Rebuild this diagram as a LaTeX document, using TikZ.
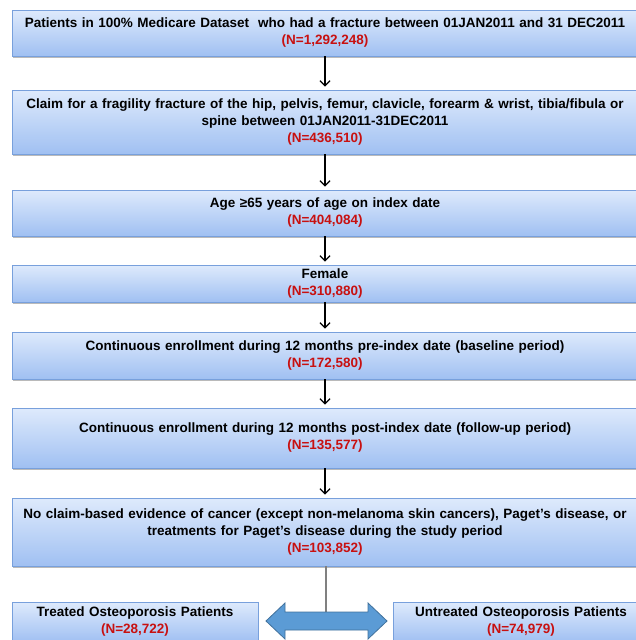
\documentclass[tikz,border=0pt]{standalone}
\usepackage{fontspec}
\setmainfont{Liberation Sans}
\usepackage{tikz}
\usetikzlibrary{arrows.meta,shadows}
\definecolor{boxtop}{RGB}{222,234,252}
\definecolor{boxbot}{RGB}{160,192,242}
\definecolor{boxline}{RGB}{120,160,220}
\definecolor{nred}{RGB}{200,16,16}
\definecolor{arrblue}{RGB}{91,155,213}
\definecolor{arrline}{RGB}{65,113,156}
\newcommand{\ncount}[1]{\\\textcolor{nred}{(N=#1)}}
\tikzset{
	stagebox/.style={draw=boxline, line width=0.8pt, top color=boxtop, bottom color=boxbot,
		drop shadow={shadow xshift=0.6pt, shadow yshift=-2pt, opacity=0.45, fill=black!60},
		inner xsep=3pt, inner ysep=0pt, align=center,
		font=\fontsize{13.5}{17}\selectfont\bfseries},
	widebox/.style={stagebox, text width=620pt, minimum width=626pt},
	smallbox/.style={stagebox, text width=240pt, minimum width=246pt, minimum height=40pt},
	flow/.style={black, line width=1.3pt, shorten >=3pt, -{Straight Barb[length=5pt,width=10pt]}}
}
\begin{document}
\begin{tikzpicture}[x=1pt,y=1pt]
			\useasboundingbox (0,0) rectangle (635,-640);
			\node [widebox, minimum height=46pt] (all) at (325,-33) {Patients in 100\% Medicare Dataset\ \ who had a fracture between 01JAN2011 and 31 DEC2011\ncount{1,292,248}};
			\node [widebox, minimum height=64pt] (frac) at (325,-122) {Claim for a fragility fracture of the hip, pelvis, femur, clavicle, forearm \& wrist, tibia/fibula or\\ spine between 01JAN2011-31DEC2011\ncount{436,510}};
			\node [widebox, minimum height=46pt] (age) at (325,-213) {Age ≥65 years of age on index date\ncount{404,084}};
			\node [widebox, minimum height=37pt] (fem) at (325,-283.5) {Female\ncount{310,880}};
			\node [widebox, minimum height=47pt] (pre) at (325,-355.5) {Continuous enrollment during 12 months pre-index date (baseline period)\ncount{172,580}};
			\node [widebox, minimum height=60pt] (post) at (325,-438) {Continuous enrollment during 12 months post-index date (follow-up period)\ncount{135,577}};
			\node [widebox, minimum height=68pt] (excl) at (325,-532) {No claim-based evidence of cancer (except non-melanoma skin cancers), Paget’s disease, or\\ treatments for Paget’s disease during the study period\ncount{103,852}};
			\node [smallbox] (treat) at (135,-622) {Treated Osteoporosis Patients\ncount{28,722}};
			\node [smallbox, text width=250pt, minimum width=256pt] (untreat) at (521,-622) {Untreated Osteoporosis Patients\ncount{74,979}};
			\draw [flow] (all.south -| 325,0) -- (frac.north -| 325,0);
			\draw [flow] (frac.south -| 325,0) -- (age.north -| 325,0);
			\draw [flow] (age.south -| 325,0) -- (fem.north -| 325,0);
			\draw [flow] (fem.south -| 325,0) -- (pre.north -| 325,0);
			\draw [flow] (pre.south -| 325,0) -- (post.north -| 325,0);
			\draw [flow] (post.south -| 325,0) -- (excl.north -| 325,0);
			\coordinate (split) at (326,-612);
			\draw [black!50, line width=1.2pt] (excl.south -| split) -- (split);
			\fill [arrblue, draw=arrline, line width=0.8pt] (266,-621) -- (285,-603) -- (285,-612) -- (368,-612) -- (368,-603) -- (387,-621) -- (368,-639) -- (368,-630) -- (285,-630) -- (285,-639) -- cycle;
\end{tikzpicture}
\end{document}
